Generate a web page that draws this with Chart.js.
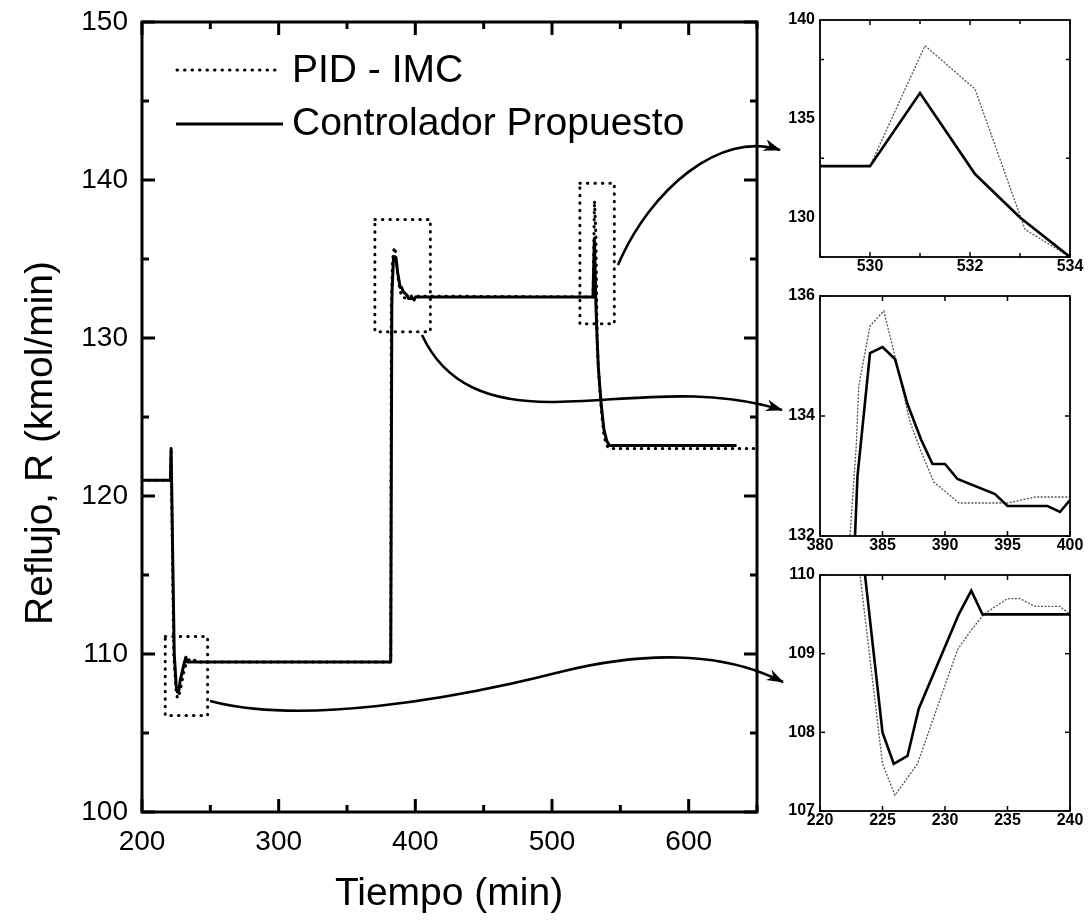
<!DOCTYPE html>
<html>
<head>
<meta charset="utf-8">
<title>Reflujo - PID-IMC vs Controlador Propuesto</title>
<script src="https://cdn.jsdelivr.net/npm/chart.js@4.4.1/dist/chart.umd.min.js"></script>
<style>
  html, body { margin: 0; padding: 0; background: #fff; }
  #wrap { position: relative; width: 1090px; height: 924px; overflow: hidden; }
  #wrap canvas { position: absolute; }
  #main { left: 0; top: 0; }
  #zoomA { left: 770px; top: 0; }
  #zoomB { left: 770px; top: 280px; }
  #zoomC { left: 770px; top: 560px; }
  #arrows { position: absolute; left: 0; top: 0; pointer-events: none; }
</style>
</head>
<body>
<div id="wrap">
  <canvas id="main" width="780" height="924"></canvas>
  <canvas id="zoomA" width="320" height="290"></canvas>
  <canvas id="zoomB" width="320" height="290"></canvas>
  <canvas id="zoomC" width="320" height="290"></canvas>
  <svg id="arrows" width="1090" height="924">
    <defs>
      <marker id="head" markerUnits="userSpaceOnUse" markerWidth="18" markerHeight="12" refX="16" refY="6" orient="auto">
        <path d="M0,0 L17,6 L0,12 L5,6 Z" fill="#000"/>
      </marker>
    </defs>
    <path d="M618,265 C650,190 720,130 780,150" fill="none" stroke="#000" stroke-width="2.6" marker-end="url(#head)"/>
    <path d="M422,335 C445,385 490,402 550,402 C620,402 700,385 782,410" fill="none" stroke="#000" stroke-width="2.6" marker-end="url(#head)"/>
    <path d="M210,701 C300,725 450,700 560,672 C640,652 720,650 783,682" fill="none" stroke="#000" stroke-width="2.6" marker-end="url(#head)"/>
  </svg>
</div>
<script>
// ---------- data ----------
const tiempoProp = [200, 220.8, 221.3, 222.5, 223.6, 225.0, 225.9, 227.0, 227.9, 231.1, 232.1, 233.0,
  382.0, 382.8, 383.0, 384.0, 385.0, 386.0, 387.0, 388.1, 389.0, 390.0, 391.0, 394.0, 395.0, 398.2, 399.2, 400.0,
  530.0, 531.0, 532.1, 533.0, 534.0, 536.0, 538.0, 540.0, 542.0, 635.0];
const reflujoProp = [121.0, 121.0, 123.0, 116.0, 110.0, 108.0, 107.6, 107.7, 108.3, 109.5, 109.8, 109.5,
  109.5, 132.0, 133.0, 135.05, 135.15, 134.95, 134.2, 133.6, 133.2, 133.2, 132.95, 132.7, 132.5, 132.5, 132.4, 132.6,
  132.6, 136.3, 132.2, 130.0, 128.0, 125.8, 124.2, 123.5, 123.2, 123.2];

const tiempoPID = [200, 220.8, 221.3, 222.3, 223.2, 225.0, 226.0, 227.8, 231.0, 232.1, 233.1, 235.0, 236.0, 237.2, 239.2, 240.0,
  382.0, 382.4, 382.9, 383.1, 384.0, 385.1, 386.0, 387.2, 388.1, 389.1, 391.1, 395.0, 397.2, 400.0,
  530.0, 531.1, 532.1, 533.1, 534.0, 536.0, 538.0, 540.0, 542.0, 650.0];
const reflujoPID = [121.0, 121.0, 123.0, 116.0, 110.0, 107.6, 107.2, 107.6, 109.05, 109.3, 109.5, 109.7, 109.7, 109.6, 109.6, 109.5,
  109.5, 132.0, 133.5, 134.5, 135.5, 135.75, 135.0, 133.9, 133.4, 132.9, 132.55, 132.55, 132.65, 132.65,
  132.6, 138.7, 136.5, 129.4, 128.0, 125.5, 123.8, 123.2, 123.0, 123.0];

const mainXTicks = [200, 300, 400, 500, 600];
const mainYTicks = [100, 110, 120, 130, 140, 150];
const zoomAXTicks = [530, 532, 534];
const zoomAYTicks = [130, 135, 140];
const zoomBXTicks = [380, 385, 390, 395, 400];
const zoomBYTicks = [132, 134, 136];
const zoomCXTicks = [220, 225, 230, 235, 240];
const zoomCYTicks = [107, 108, 109, 110];

const FONT = "'Liberation Sans', Arial, Helvetica, sans-serif";

function toPoints(xs, ys) {
  return xs.map((x, i) => ({ x: x, y: ys[i] }));
}

// frame, inward ticks on four sides, optional extras
const framePlugin = {
  id: 'frame',
  afterDatasetsDraw(chart, args, o) {
    const { ctx, chartArea: a, scales: { x, y } } = chart;
    ctx.save();
    ctx.strokeStyle = '#000';
    ctx.lineCap = 'butt';
    ctx.setLineDash([]);

    const seg = (x1, y1, x2, y2) => { ctx.beginPath(); ctx.moveTo(x1, y1); ctx.lineTo(x2, y2); ctx.stroke(); };
    ctx.lineWidth = o.tickWidth;
    for (let v = x.min; v <= x.max + 1e-6; v += o.xMinor) {
      const px = x.getPixelForValue(v);
      const len = o.xMajor.includes(Math.round(v * 100) / 100) ? o.majorLen : o.minorLen;
      seg(px, a.bottom, px, a.bottom - len);
      seg(px, a.top, px, a.top + len);
    }
    for (let v = y.min; v <= y.max + 1e-6; v += o.yMinor) {
      const py = y.getPixelForValue(v);
      const len = o.yMajor.includes(Math.round(v * 100) / 100) ? o.majorLen : o.minorLen;
      seg(a.left, py, a.left + len, py);
      seg(a.right, py, a.right - len, py);
    }

    ctx.lineWidth = o.frameWidth;
    ctx.strokeRect(a.left, a.top, a.right - a.left, a.bottom - a.top);

    // dotted zoom boxes (data units)
    if (o.boxes) {
      ctx.lineWidth = 3;
      ctx.lineCap = 'round';
      ctx.setLineDash([0.5, 7]);
      o.boxes.forEach(b => {
        const x1 = x.getPixelForValue(b[0]), x2 = x.getPixelForValue(b[1]);
        const y1 = y.getPixelForValue(b[3]), y2 = y.getPixelForValue(b[2]);
        ctx.strokeRect(x1, y1, x2 - x1, y2 - y1);
      });
    }
    ctx.restore();
  },
  afterDraw(chart, args, o) {
    if (!o.titles) return;
    const { ctx } = chart;
    ctx.save();
    ctx.fillStyle = '#000';
    ctx.font = '39px ' + FONT;
    ctx.textAlign = 'center';
    ctx.textBaseline = 'middle';
    ctx.fillText('Tiempo (min)', 449, 894);
    ctx.translate(41, 443);
    ctx.rotate(-Math.PI / 2);
    ctx.fillText('Reflujo, R (kmol/min)', 0, 0);
    ctx.restore();

    // legend
    ctx.save();
    ctx.strokeStyle = '#000';
    ctx.lineWidth = 3;
    ctx.lineCap = 'round';
    ctx.setLineDash([0.5, 7]);
    ctx.beginPath(); ctx.moveTo(177, 70); ctx.lineTo(280, 70); ctx.stroke();
    ctx.setLineDash([]);
    ctx.lineCap = 'butt';
    ctx.beginPath(); ctx.moveTo(176, 124); ctx.lineTo(283, 124); ctx.stroke();
    ctx.fillStyle = '#000';
    ctx.font = '39px ' + FONT;
    ctx.textAlign = 'left';
    ctx.textBaseline = 'middle';
    ctx.fillText(chart.data.datasets[1].label, 292, 71);
    ctx.fillText(chart.data.datasets[0].label, 292, 124);
    ctx.restore();
  }
};

function axis(min, max, tickVals, padding, fit, font) {
  return {
    type: 'linear',
    min: min,
    max: max,
    afterBuildTicks: s => { s.ticks = tickVals.map(v => ({ value: v })); },
    afterFit: s => {
      fit(s);
      // keep the plot box where the layout padding puts it
      s.paddingTop = 0; s.paddingBottom = 0; s.paddingLeft = 0; s.paddingRight = 0;
    },
    grid: { display: false, drawTicks: false },
    border: { display: false },
    ticks: { font: font, color: '#000', padding: padding, maxRotation: 0, autoSkip: false }
  };
}

const solidMain = {
  label: 'Controlador Propuesto', data: toPoints(tiempoProp, reflujoProp),
  borderColor: '#000', borderWidth: 3, pointRadius: 0, tension: 0, borderJoinStyle: 'round'
};
const dottedMain = {
  label: 'PID - IMC', data: toPoints(tiempoPID, reflujoPID),
  borderColor: '#000', borderWidth: 3, borderDash: [0.5, 6.5], borderCapStyle: 'round',
  pointRadius: 0, tension: 0
};

new Chart(document.getElementById('main'), {
  type: 'line',
  data: { datasets: [solidMain, dottedMain] },
  options: {
    responsive: false, animation: false, events: [],
    layout: { padding: { top: 22, right: 23, left: 0, bottom: 0 } },
    plugins: {
      legend: { display: false }, tooltip: { enabled: false },
      frame: {
        frameWidth: 3, tickWidth: 3, majorLen: 13, minorLen: 7,
        xMinor: 50, yMinor: 5, xMajor: mainXTicks, yMajor: mainYTicks, titles: true,
        boxes: [[217, 248, 106.1, 111.1], [370.4, 411, 130.4, 137.5], [520.4, 545.6, 130.9, 139.8]]
      }
    },
    scales: {
      x: axis(200, 650, mainXTicks, 13, s => { s.height = 112; }, { size: 28, family: FONT }),
      y: axis(100, 150, mainYTicks, 14, s => { s.width = 142; }, { size: 28, family: FONT })
    }
  },
  plugins: [framePlugin]
});

function inset(id, xr, yr, xt, yt, xMinor, yMinor, padTop, xH) {
  const insetFont = { size: 16, weight: 'bold', family: FONT };
  new Chart(document.getElementById(id), {
    type: 'line',
    data: {
      datasets: [
        { label: 'Controlador Propuesto', data: toPoints(tiempoProp, reflujoProp),
          borderColor: '#000', borderWidth: 2.6, pointRadius: 0, tension: 0 },
        { label: 'PID - IMC', data: toPoints(tiempoPID, reflujoPID),
          borderColor: '#555', borderWidth: 1.3, borderDash: [2, 1.5], pointRadius: 0, tension: 0 }
      ]
    },
    options: {
      responsive: false, animation: false, events: [],
      layout: { padding: { top: padTop, right: 20, left: 0, bottom: 0 } },
      plugins: {
        legend: { display: false }, tooltip: { enabled: false },
        frame: { frameWidth: 1.8, tickWidth: 1.5, majorLen: 5, minorLen: 4,
          xMinor: xMinor, yMinor: yMinor, xMajor: xt, yMajor: yt }
      },
      scales: {
        x: axis(xr[0], xr[1], xt, 0, s => { s.height = xH; }, insetFont),
        y: axis(yr[0], yr[1], yt, 5, s => { s.width = 50; }, insetFont)
      }
    },
    plugins: [framePlugin]
  });
}

inset('zoomA', [529, 534], [128, 140], zoomAXTicks, zoomAYTicks, 1, 5, 20, 33);
inset('zoomB', [380, 400], [132, 136], zoomBXTicks, zoomBYTicks, 5, 2, 16, 34);
inset('zoomC', [220, 240], [107, 110], zoomCXTicks, zoomCYTicks, 5, 1, 15, 39);
</script>
</body>
</html>
